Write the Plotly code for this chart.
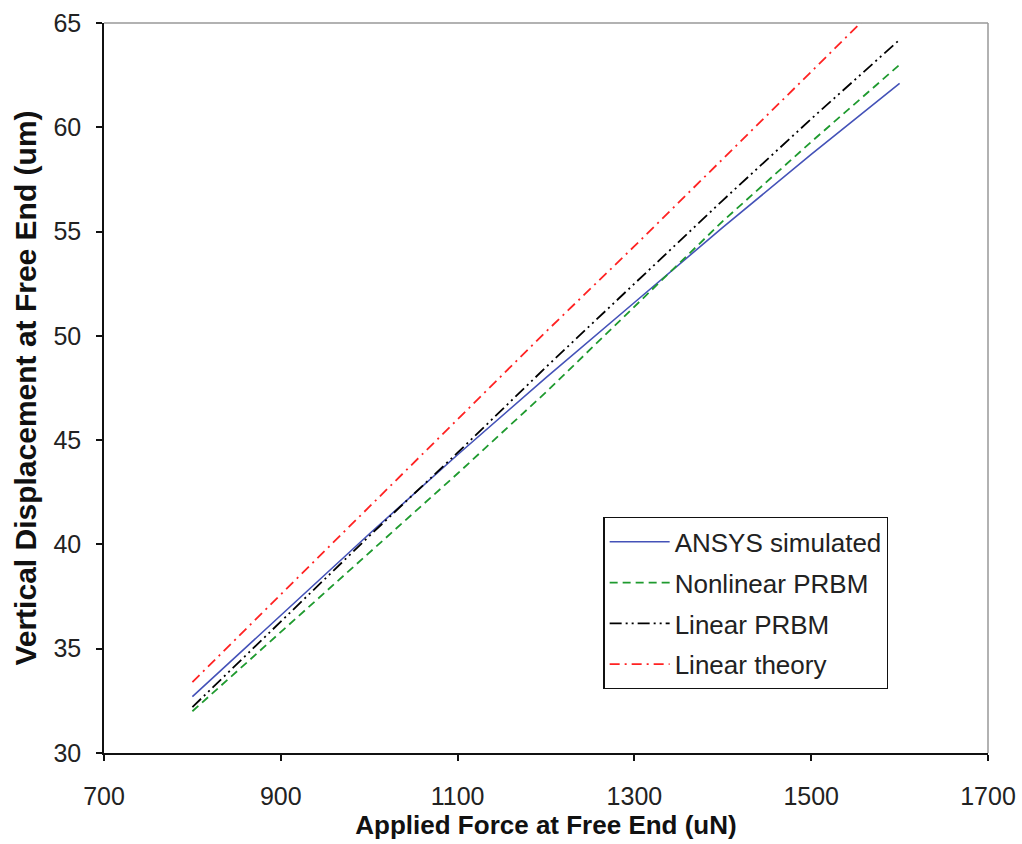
import plotly.graph_objects as go

force = [800, 900, 1000, 1100, 1200, 1300, 1400, 1500, 1600]
ansys = [32.7, 36.6, 40.5, 44.3, 48.0, 51.6, 55.2, 58.7, 62.1]
nonlinear_prbm = [32.0, 35.8, 39.6, 43.4, 47.3, 51.4, 55.5, 59.3, 63.0]
linear_prbm = [32.2, 36.3, 40.4, 44.4, 48.5, 52.5, 56.5, 60.4, 64.2]
force_theory = [800, 900, 1000, 1100, 1200, 1300, 1400, 1500, 1575]
linear_theory = [33.4, 37.6, 41.8, 46.0, 50.2, 54.3, 58.5, 62.7, 65.8]

x_ticks = [700, 900, 1100, 1300, 1500, 1700]
y_ticks = [30, 35, 40, 45, 50, 55, 60, 65]

FONT = "Liberation Sans, Arial, sans-serif"

fig = go.Figure()
fig.add_trace(go.Scatter(x=force, y=ansys, mode="lines", name="ANSYS simulated",
                         legendgroup="a",
                         line=dict(color="#4452B8", width=1.6)))
fig.add_trace(go.Scatter(x=force, y=nonlinear_prbm, mode="lines", name="Nonlinear PRBM",
                         legendgroup="b",
                         line=dict(color="#1E9A2E", width=1.8, dash="8px,5px")))
fig.add_trace(go.Scatter(x=force, y=linear_prbm, mode="lines", name="Linear PRBM",
                         legendgroup="c",
                         line=dict(color="#000000", width=1.8, dash="12px,4px,2px,4px,2px,4px")))
fig.add_trace(go.Scatter(x=force_theory, y=linear_theory, mode="lines", name="Linear theory",
                         legendgroup="d",
                         line=dict(color="#FF2222", width=1.8, dash="10px,5px,2px,5px")))

fig.update_layout(
    width=1022, height=844,
    margin=dict(l=104, r=34, t=23, b=91),
    paper_bgcolor="white", plot_bgcolor="white",
    font=dict(family=FONT, size=25, color="#222"),
    showlegend=True,
    legend=dict(x=0.565, y=0.323, xanchor="left", yanchor="top",
                bgcolor="white", bordercolor="#111", borderwidth=1.2,
                font=dict(family=FONT, size=26, color="#222"),
                tracegroupgap=4, itemwidth=60),
    xaxis=dict(range=[700, 1700], tickvals=x_ticks, showgrid=False, zeroline=False,
               showline=True, linecolor="#111", linewidth=1.5, automargin=False,
               ticks="outside", ticklen=6, tickcolor="#111", tickwidth=1.5,
               ticklabelstandoff=14,
               tickfont=dict(family=FONT, size=25, color="#222"),
               title=dict(text="<b>Applied Force at Free End (uN)</b>", standoff=4,
                          font=dict(family=FONT, size=26, color="#111"))),
    yaxis=dict(range=[30, 65], tickvals=y_ticks, showgrid=False, zeroline=False,
               showline=True, linecolor="#111", linewidth=1.5, automargin=False,
               ticks="outside", ticklen=6, tickcolor="#111", tickwidth=1.5,
               ticklabelstandoff=10,
               tickfont=dict(family=FONT, size=25, color="#222"),
               title=dict(text="<b>Vertical Displacement at Free End (um)</b>", standoff=8,
                          font=dict(family=FONT, size=30, color="#111"))),
)

# gray frame on top and right of plot area
fig.add_shape(type="line", xref="paper", yref="paper", x0=0, y0=1, x1=1, y1=1,
              line=dict(color="#999999", width=1.5))
fig.add_shape(type="line", xref="paper", yref="paper", x0=1, y0=0, x1=1, y1=1,
              line=dict(color="#999999", width=1.5))

fig.write_html("out.html")
